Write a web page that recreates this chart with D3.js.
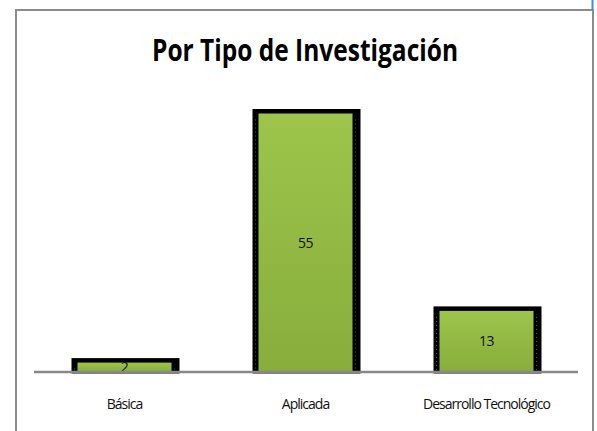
<!DOCTYPE html>
<html>
<head>
<meta charset="utf-8">
<script src="https://cdn.jsdelivr.net/npm/d3@7"></script>
<style>
  body { margin: 0; background: #fff; }
  text { font-family: "Open Sans", "Liberation Sans", sans-serif; }
</style>
</head>
<body>
<script>
const width = 597,
  height = 431;

// data
const categories = ["Básica", "Aplicada", "Desarrollo Tecnológico"];
const values = [2, 55, 13];
const title = "Por Tipo de Investigación";

const svg = d3
  .select("body")
  .append("svg")
  .attr("width", width)
  .attr("height", height);

const defs = svg.append("defs");
const grad = defs
  .append("linearGradient")
  .attr("id", "barGreen")
  .attr("x1", 0).attr("y1", 0)
  .attr("x2", 0).attr("y2", 1);
grad.append("stop").attr("offset", "0%").attr("stop-color", "#9dc54b");
grad.append("stop").attr("offset", "100%").attr("stop-color", "#88ad3c");

// outer chart frame (runs off the bottom of the shot)
svg
  .append("rect")
  .attr("x", 16)
  .attr("y", 10)
  .attr("width", 577)
  .attr("height", 440)
  .attr("fill", "#fff")
  .attr("stroke", "#8c8c8c")
  .attr("stroke-width", 2);

// little blue selection edge on the right
svg
  .append("line")
  .attr("x1", 592.5).attr("x2", 592.5)
  .attr("y1", 0).attr("y2", 10)
  .attr("stroke", "#3f86f5")
  .attr("stroke-width", 2);

// title, squeezed to the condensed look of the original
svg
  .append("text")
  .attr("x", 305)
  .attr("y", 61)
  .attr("text-anchor", "middle")
  .attr("font-size", 31)
  .attr("font-weight", "bold")
  .attr("textLength", 306)
  .attr("lengthAdjust", "spacingAndGlyphs")
  .attr("fill", "#000")
  .text(title);

const x = d3
  .scaleBand()
  .domain(categories)
  .range([34, 577])
  .paddingInner(0)
  .paddingOuter(0);

const y = d3.scaleLinear().domain([0, 60]).range([372, 90]);

const innerW = 94;

const bars = svg
  .selectAll("g.bar")
  .data(categories)
  .join("g")
  .attr("class", "bar");

// black frame / shadow behind each bar
bars
  .append("rect")
  .attr("x", (d) => x(d) + x.bandwidth() / 2 - innerW / 2 - 6)
  .attr("y", (d, i) => y(values[i]) - 4.5)
  .attr("width", innerW + 14)
  .attr("height", (d, i) => y(0) - y(values[i]) + 6)
  .attr("fill", "#000");

bars
  .append("rect")
  .attr("x", (d) => x(d) + x.bandwidth() / 2 - innerW / 2)
  .attr("y", (d, i) => y(values[i]))
  .attr("width", innerW)
  .attr("height", (d, i) => y(0) - y(values[i]))
  .attr("fill", "url(#barGreen)");

// faint dotted edges inside the black frame
bars
  .append("line")
  .attr("x1", (d) => x(d) + x.bandwidth() / 2 + innerW / 2 + 3)
  .attr("x2", (d) => x(d) + x.bandwidth() / 2 + innerW / 2 + 3)
  .attr("y1", (d, i) => y(values[i]) + 6)
  .attr("y2", y(0))
  .attr("stroke", "#555")
  .attr("stroke-dasharray", "1,3");
bars
  .append("line")
  .attr("x1", (d) => x(d) + x.bandwidth() / 2 - innerW / 2 - 3)
  .attr("x2", (d) => x(d) + x.bandwidth() / 2 - innerW / 2 - 3)
  .attr("y1", (d, i) => y(values[i]) + 6)
  .attr("y2", y(0))
  .attr("stroke", "#555")
  .attr("stroke-dasharray", "1,3");

// axis line
svg
  .append("line")
  .attr("x1", 34)
  .attr("x2", 578)
  .attr("y1", y(0))
  .attr("y2", y(0))
  .attr("stroke", "#888")
  .attr("stroke-width", 2.5);

// value labels in the middle of each bar
bars
  .append("text")
  .attr("x", (d) => x(d) + x.bandwidth() / 2)
  .attr("y", (d, i) => (y(values[i]) + y(0)) / 2 + 5)
  .attr("text-anchor", "middle")
  .attr("font-size", 14)
  .attr("letter-spacing", -0.5)
  .attr("fill", "#111")
  .text((d, i) => values[i]);

// category labels
const xAxis = svg
  .append("g")
  .attr("transform", `translate(0,${y(0)})`)
  .call(d3.axisBottom(x).tickSize(0).tickPadding(27));
xAxis.select(".domain").remove();
xAxis
  .selectAll("text")
  .attr("font-size", 14)
  .attr("font-family", "'Open Sans', sans-serif")
  .attr("letter-spacing", -1)
  .attr("fill", "#111");
</script>
</body>
</html>
